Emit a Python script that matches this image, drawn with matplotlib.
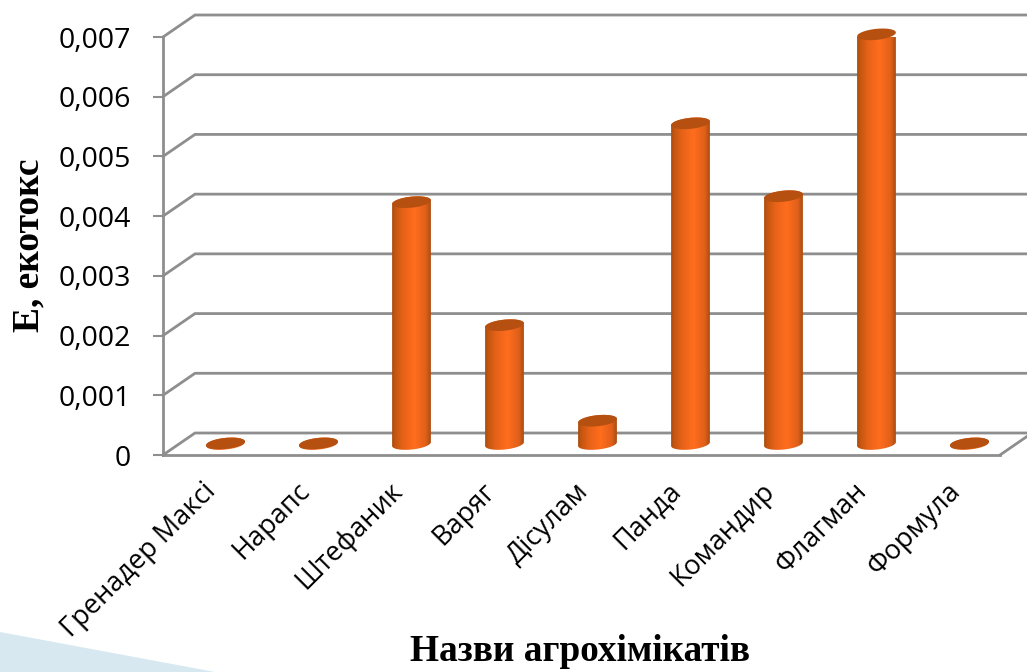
import numpy as np
import matplotlib
matplotlib.use("Agg")
import matplotlib.pyplot as plt
from matplotlib.colors import LinearSegmentedColormap
from matplotlib.patches import Polygon
from matplotlib.transforms import IdentityTransform, ScaledTranslation

# Екотоксичність агрохімікатів
categories = ["Гренадер Максі", "Нарапс", "Штефаник", "Варяг", "Дісулам",
              "Панда", "Командир", "Флагман", "Формула"]
values = [0.00001, 0.00001, 0.00405, 0.00199, 0.00039,
          0.00537, 0.00415, 0.00686, 0.00001]
y_ticks = [0, 0.001, 0.002, 0.003, 0.004, 0.005, 0.006, 0.007]
y_labels = ["0", "0,001", "0,002", "0,003", "0,004", "0,005", "0,006", "0,007"]

W, H = 1027, 672
GRID = "#8e8e8e"
DEPTH = (32, 22)          # depth of the 3D box, display pixels
RX, RY, TILT = 19.5, 5.5, np.deg2rad(6)
body_cmap = LinearSegmentedColormap.from_list(
    "cyl", [(0, "#a04a10"), (0.1, "#c4560f"), (0.3, "#e8631a"), (0.58, "#ff6d1d"),
            (0.85, "#e0601a"), (1, "#a04a10")])

fig = plt.figure(figsize=(W / 100, H / 100), dpi=100, facecolor="white")
ax = fig.add_axes([163 / W, (H - 455) / H, 837 / W, 418 / H])
ax.set_facecolor("none")
ax.set_xlim(-0.5, len(categories) - 0.5)
ax.set_ylim(0, 0.007)

# Decorative wedge of the slide in the lower left corner
fig.add_artist(Polygon([[0, 1 - 632 / H], [215 / W, 0], [0, 0]], closed=True,
                       transform=fig.transFigure, facecolor="#d7e8f1", edgecolor="none"))

for s in ["top", "right"]:
    ax.spines[s].set_visible(False)
for s in ["left", "bottom"]:
    ax.spines[s].set_color(GRID)
    ax.spines[s].set_linewidth(2.0)

ax.set_yticks(y_ticks, y_labels, fontsize=20.5, family="Open Sans")
ax.tick_params(axis="y", length=7, width=1.5, color=GRID, pad=16)
ax.set_xticks(range(len(categories)))
ax.set_xticklabels(categories, rotation=45, ha="right", va="top",
                   rotation_mode="anchor", fontsize=19.5, family="Open Sans")
ax.tick_params(axis="x", length=0, pad=16)
shift = ScaledTranslation(-7 / 100, 0, fig.dpi_scale_trans)
for lab in ax.get_xticklabels():
    lab.set_transform(lab.get_transform() + shift)

ax.set_xlabel("Назви агрохімікатів", fontsize=26.8, fontweight="bold",
              family="Liberation Serif")
ax.xaxis.set_label_coords((580 - 163) / 837, -(669 - 455) / 418, transform=ax.transAxes)
ax.xaxis.label.set_va("bottom")
ax.set_ylabel("Е, екотокс", fontsize=27, fontweight="bold", family="Liberation Serif")
ax.yaxis.set_label_coords((29 - 163) / 837, (455 - 245) / 418, transform=ax.transAxes)
ax.yaxis.label.set_va("center")

# Back wall, side wall and floor edges, shifted by the box depth
to_px = ax.transData
for v in y_ticks:
    x0, y0 = to_px.transform((-0.5, v))
    ax.plot([x0, x0 + DEPTH[0], W + 10], [y0, y0 + DEPTH[1], y0 + DEPTH[1]],
            transform=IdentityTransform(), color=GRID, lw=2.0, clip_on=False,
            zorder=1, solid_joinstyle="miter")
xr, yr = to_px.transform((len(categories) - 0.5, 0))
ax.plot([xr, xr + DEPTH[0]], [yr, yr + DEPTH[1]], transform=IdentityTransform(),
        color=GRID, lw=2.0, clip_on=False, zorder=1)


def ellipse_points(cx, cy, start, stop, n=40):
    t = np.linspace(start, stop, n)
    px = RX * np.cos(t)
    py = RY * np.sin(t)
    return np.column_stack([cx + px * np.cos(TILT) - py * np.sin(TILT),
                            cy + px * np.sin(TILT) + py * np.cos(TILT)])


gradient = np.linspace(0, 1, 128).reshape(1, -1)
for i, v in enumerate(values):
    bx, by = to_px.transform((i, 0))
    tx, ty = to_px.transform((i, v))
    bx, by = bx + DEPTH[0] / 2, by + DEPTH[1] / 2
    tx, ty = tx + DEPTH[0] / 2, ty + DEPTH[1] / 2
    outline = np.vstack([ellipse_points(bx, by, np.pi, 2 * np.pi),
                         ellipse_points(tx, ty, 0, np.pi)])
    clip = Polygon(outline, closed=True, transform=IdentityTransform())
    im = ax.imshow(gradient, cmap=body_cmap, aspect="auto", origin="lower",
                   extent=[bx - RX - 1, bx + RX + 1, by - RY - 3, ty + RY + 3],
                   transform=IdentityTransform(), zorder=3, interpolation="bilinear")
    im.set_clip_path(clip)
    ax.add_patch(Polygon(ellipse_points(tx, ty, 0, 2 * np.pi), closed=True,
                         transform=IdentityTransform(), facecolor="#b55011",
                         edgecolor="none", zorder=4, clip_on=False))

ax.set_xlim(-0.5, len(categories) - 0.5)
ax.set_ylim(0, 0.007)
fig.savefig("out.png", dpi=100, facecolor="white")
